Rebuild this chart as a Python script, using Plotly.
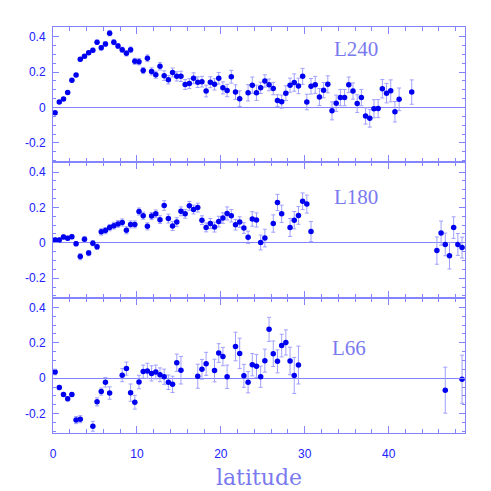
import plotly.graph_objects as go
from plotly.subplots import make_subplots

# L240 panel
lat_240 = [0.25, 0.75, 1.25, 1.75, 2.25, 2.75, 3.25, 3.75, 4.25, 4.75, 5.25, 5.75, 6.25, 6.75,
           7.25, 7.75, 8.25, 8.75, 9.25, 9.75, 10.25, 10.75, 11.25, 11.75, 12.25, 12.75, 13.25,
           13.75, 14.25, 14.75, 15.25, 15.75, 16.25, 16.75, 17.25, 17.75, 18.25, 18.75, 19.25,
           19.75, 20.25, 20.75, 21.25, 21.75, 22.25, 23.25, 23.75, 24.25, 24.75, 25.25, 25.75,
           26.25, 26.75, 27.25, 27.75, 28.25, 28.75, 29.25, 29.75, 30.25, 30.75, 31.25, 31.75,
           32.25, 32.75, 33.25, 33.75, 34.25, 34.75, 35.25, 35.75, 36.25, 36.75, 37.25, 37.75,
           38.25, 38.75, 39.25, 39.75, 40.25, 40.75, 41.25, 42.75]
val_240 = [-0.03, 0.031, 0.048, 0.085, 0.154, 0.183, 0.272, 0.289, 0.309, 0.324, 0.369, 0.337,
           0.359, 0.42, 0.369, 0.348, 0.326, 0.306, 0.326, 0.261, 0.259, 0.209, 0.278, 0.204,
           0.185, 0.233, 0.18, 0.157, 0.198, 0.176, 0.176, 0.13, 0.135, 0.165, 0.143, 0.146,
           0.093, 0.143, 0.131, 0.165, 0.111, 0.096, 0.174, 0.087, 0.05, 0.083, 0.126, 0.083,
           0.111, 0.15, 0.128, 0.107, 0.039, 0.033, 0.081, 0.126, 0.141, 0.122, 0.176, 0.031,
           0.12, 0.128, 0.059, 0.098, 0.131, -0.019, 0.024, 0.056, 0.056, 0.128, 0.093, 0.022,
           0.056, -0.048, -0.061, -0.007, -0.006, 0.106, 0.081, 0.094, -0.024, 0.046, 0.087]
err_240 = [0.008, 0.008, 0.008, 0.008, 0.009, 0.009, 0.01, 0.01, 0.01, 0.011, 0.012, 0.012,
           0.013, 0.015, 0.014, 0.014, 0.015, 0.015, 0.016, 0.017, 0.018, 0.018, 0.019, 0.02,
           0.02, 0.021, 0.027, 0.024, 0.025, 0.026, 0.029, 0.028, 0.028, 0.031, 0.03, 0.03,
           0.033, 0.031, 0.032, 0.033, 0.034, 0.035, 0.036, 0.041, 0.044, 0.046, 0.046, 0.043,
           0.032, 0.035, 0.033, 0.035, 0.033, 0.037, 0.042, 0.04, 0.049, 0.044, 0.045, 0.044,
           0.044, 0.048, 0.048, 0.043, 0.048, 0.051, 0.046, 0.046, 0.046, 0.044, 0.046, 0.05,
           0.046, 0.046, 0.05, 0.051, 0.051, 0.052, 0.055, 0.062, 0.058, 0.064, 0.069]

# L180 panel
lat_180 = [0.25, 0.75, 1.25, 1.75, 2.25, 2.75, 3.25, 3.75, 4.25, 4.75, 5.25, 5.75, 6.25, 6.75,
           7.25, 7.75, 8.25, 8.75, 9.25, 9.75, 10.25, 10.75, 11.25, 11.75, 12.25, 12.75, 13.25,
           13.75, 14.25, 14.75, 15.25, 15.75, 16.25, 16.75, 17.25, 17.75, 18.25, 18.75, 19.25,
           19.75, 20.25, 20.75, 21.25, 21.75, 22.25, 22.75, 23.25, 23.75, 24.25, 24.75, 25.25,
           26.25, 26.75, 27.25, 28.25, 28.75, 29.25, 29.75, 30.25, 30.75, 45.75, 46.25, 46.75,
           47.25, 47.75, 48.25, 48.75]
val_180 = [0.016, 0.016, 0.033, 0.026, 0.035, -0.005, -0.078, 0.02, -0.058, -0.002, -0.022,
           0.062, 0.069, 0.086, 0.097, 0.107, 0.115, 0.071, 0.104, 0.104, 0.177, 0.153, 0.093,
           0.151, 0.164, 0.131, 0.211, 0.137, 0.095, 0.117, 0.178, 0.164, 0.209, 0.188, 0.199,
           0.128, 0.087, 0.109, 0.089, 0.12, 0.14, 0.166, 0.153, 0.102, 0.117, 0.084, 0.031,
           0.135, 0.129, 0.002, 0.027, 0.109, 0.228, 0.164, 0.087, 0.128, 0.155, 0.235, 0.219,
           0.064, -0.044, 0.055, -0.009, -0.073, 0.086, -0.009, -0.027]
err_180 = [0.012, 0.012, 0.012, 0.012, 0.012, 0.012, 0.018, 0.015, 0.015, 0.015, 0.015, 0.018,
           0.018, 0.018, 0.019, 0.019, 0.02, 0.02, 0.02, 0.02, 0.02, 0.02, 0.02, 0.02, 0.022,
           0.022, 0.027, 0.025, 0.025, 0.025, 0.025, 0.025, 0.025, 0.025, 0.025, 0.025, 0.025,
           0.028, 0.028, 0.03, 0.03, 0.037, 0.035, 0.03, 0.03, 0.03, 0.035, 0.041, 0.04, 0.042,
           0.05, 0.049, 0.046, 0.049, 0.051, 0.049, 0.05, 0.047, 0.051, 0.057, 0.077, 0.068,
           0.064, 0.075, 0.061, 0.062, 0.059]

# L66 panel
lat_66 = [0.25, 0.75, 1.25, 1.75, 2.25, 2.75, 3.25, 4.75, 5.25, 5.75, 6.25, 6.75, 8.25, 8.75,
          9.25, 9.75, 10.25, 10.75, 11.25, 11.75, 12.25, 12.75, 13.25, 13.75, 14.25, 14.75,
          15.25, 17.25, 17.75, 18.25, 19.25, 19.75, 20.25, 20.75, 21.75, 22.25, 22.75, 23.25,
          23.75, 24.25, 24.75, 25.25, 25.75, 26.25, 26.75, 27.25, 27.75, 28.25, 28.75, 29.25,
          46.75, 48.75]
val_66 = [0.035, -0.053, -0.093, -0.117, -0.093, -0.237, -0.232, -0.272, -0.134, -0.076,
          -0.023, -0.084, 0.017, 0.054, -0.082, -0.136, -0.022, 0.037, 0.041, 0.027, 0.035,
          0.019, 0.008, -0.023, -0.035, 0.087, 0.045, 0.011, 0.05, 0.081, 0.043, 0.142, 0.122,
          0.008, 0.179, 0.14, 0.013, -0.023, 0.076, 0.068, 0.008, 0.099, 0.276, 0.138, 0.095,
          0.184, 0.202, 0.097, 0.015, 0.074, -0.068, -0.006]
err_66 = [0.016, 0.012, 0.01, 0.012, 0.01, 0.02, 0.02, 0.028, 0.023, 0.02, 0.027, 0.035,
          0.037, 0.037, 0.049, 0.039, 0.038, 0.037, 0.043, 0.043, 0.039, 0.039, 0.043, 0.041,
          0.046, 0.049, 0.078, 0.068, 0.056, 0.065, 0.064, 0.053, 0.052, 0.066, 0.081, 0.086,
          0.065, 0.06, 0.063, 0.065, 0.06, 0.065, 0.068, 0.072, 0.065, 0.064, 0.071, 0.078,
          0.102, 0.107, 0.13, 0.136]

panel_names = ["L240", "L180", "L66"]
label_x = [36.1, 36.1, 35.3]
label_y = [0.333, 0.257, 0.17]

panels = [(lat_240, val_240, err_240), (lat_180, val_180, err_180), (lat_66, val_66, err_66)]

axis_col = "#8484ff"
label_col = "#7a7af0"
tick_font = dict(family="Liberation Sans, Arial, sans-serif", size=12, color="#2020ff")

fig = make_subplots(rows=3, cols=1, shared_xaxes=True, vertical_spacing=0)

for i, (xs, ys, es) in enumerate(panels):
    row = i + 1
    fig.add_trace(go.Scatter(x=xs, y=ys, mode="markers",
        marker=dict(size=5.5, color="#0000f0"),
        error_y=dict(type="data", array=es, color="#a0a0ff", thickness=1, width=2),
        showlegend=False), row=row, col=1)
    fig.add_annotation(x=label_x[i], y=label_y[i], text=panel_names[i], showarrow=False,
        row=row, col=1,
        font=dict(family="Liberation Serif, DejaVu Serif, serif", size=21, color=label_col))
    fig.update_yaxes(row=row, col=1, range=[-0.31, 0.455],
        tickvals=[-0.2, 0, 0.2, 0.4], ticktext=["-0.2", "0", "0.2", "0.4"],
        ticks="inside", ticklen=6, tickcolor=axis_col, ticklabelstandoff=4,
        minor=dict(dtick=0.05, ticks="inside", ticklen=3, tickcolor=axis_col),
        showline=True, linecolor=axis_col, linewidth=1, mirror="allticks",
        showgrid=False, zeroline=True, zerolinecolor=axis_col, zerolinewidth=1,
        tickfont=tick_font)
    fig.update_xaxes(row=row, col=1, range=[0, 49.1], dtick=10,
        ticks="inside", ticklen=7, tickcolor=axis_col, ticklabelstandoff=10,
        minor=dict(dtick=2, ticks="inside", ticklen=4, tickcolor=axis_col),
        showline=True, linecolor=axis_col, linewidth=1, mirror="allticks",
        showgrid=False, zeroline=False, tickfont=tick_font)

fig.update_xaxes(row=3, col=1, title=dict(text="latitude", standoff=9,
    font=dict(family="DejaVu Serif, serif", size=22, color=label_col)))

fig.update_layout(width=491, height=491, margin=dict(l=45, r=34, t=19, b=66),
    plot_bgcolor="white", paper_bgcolor="white")

fig.write_html("out.html")
